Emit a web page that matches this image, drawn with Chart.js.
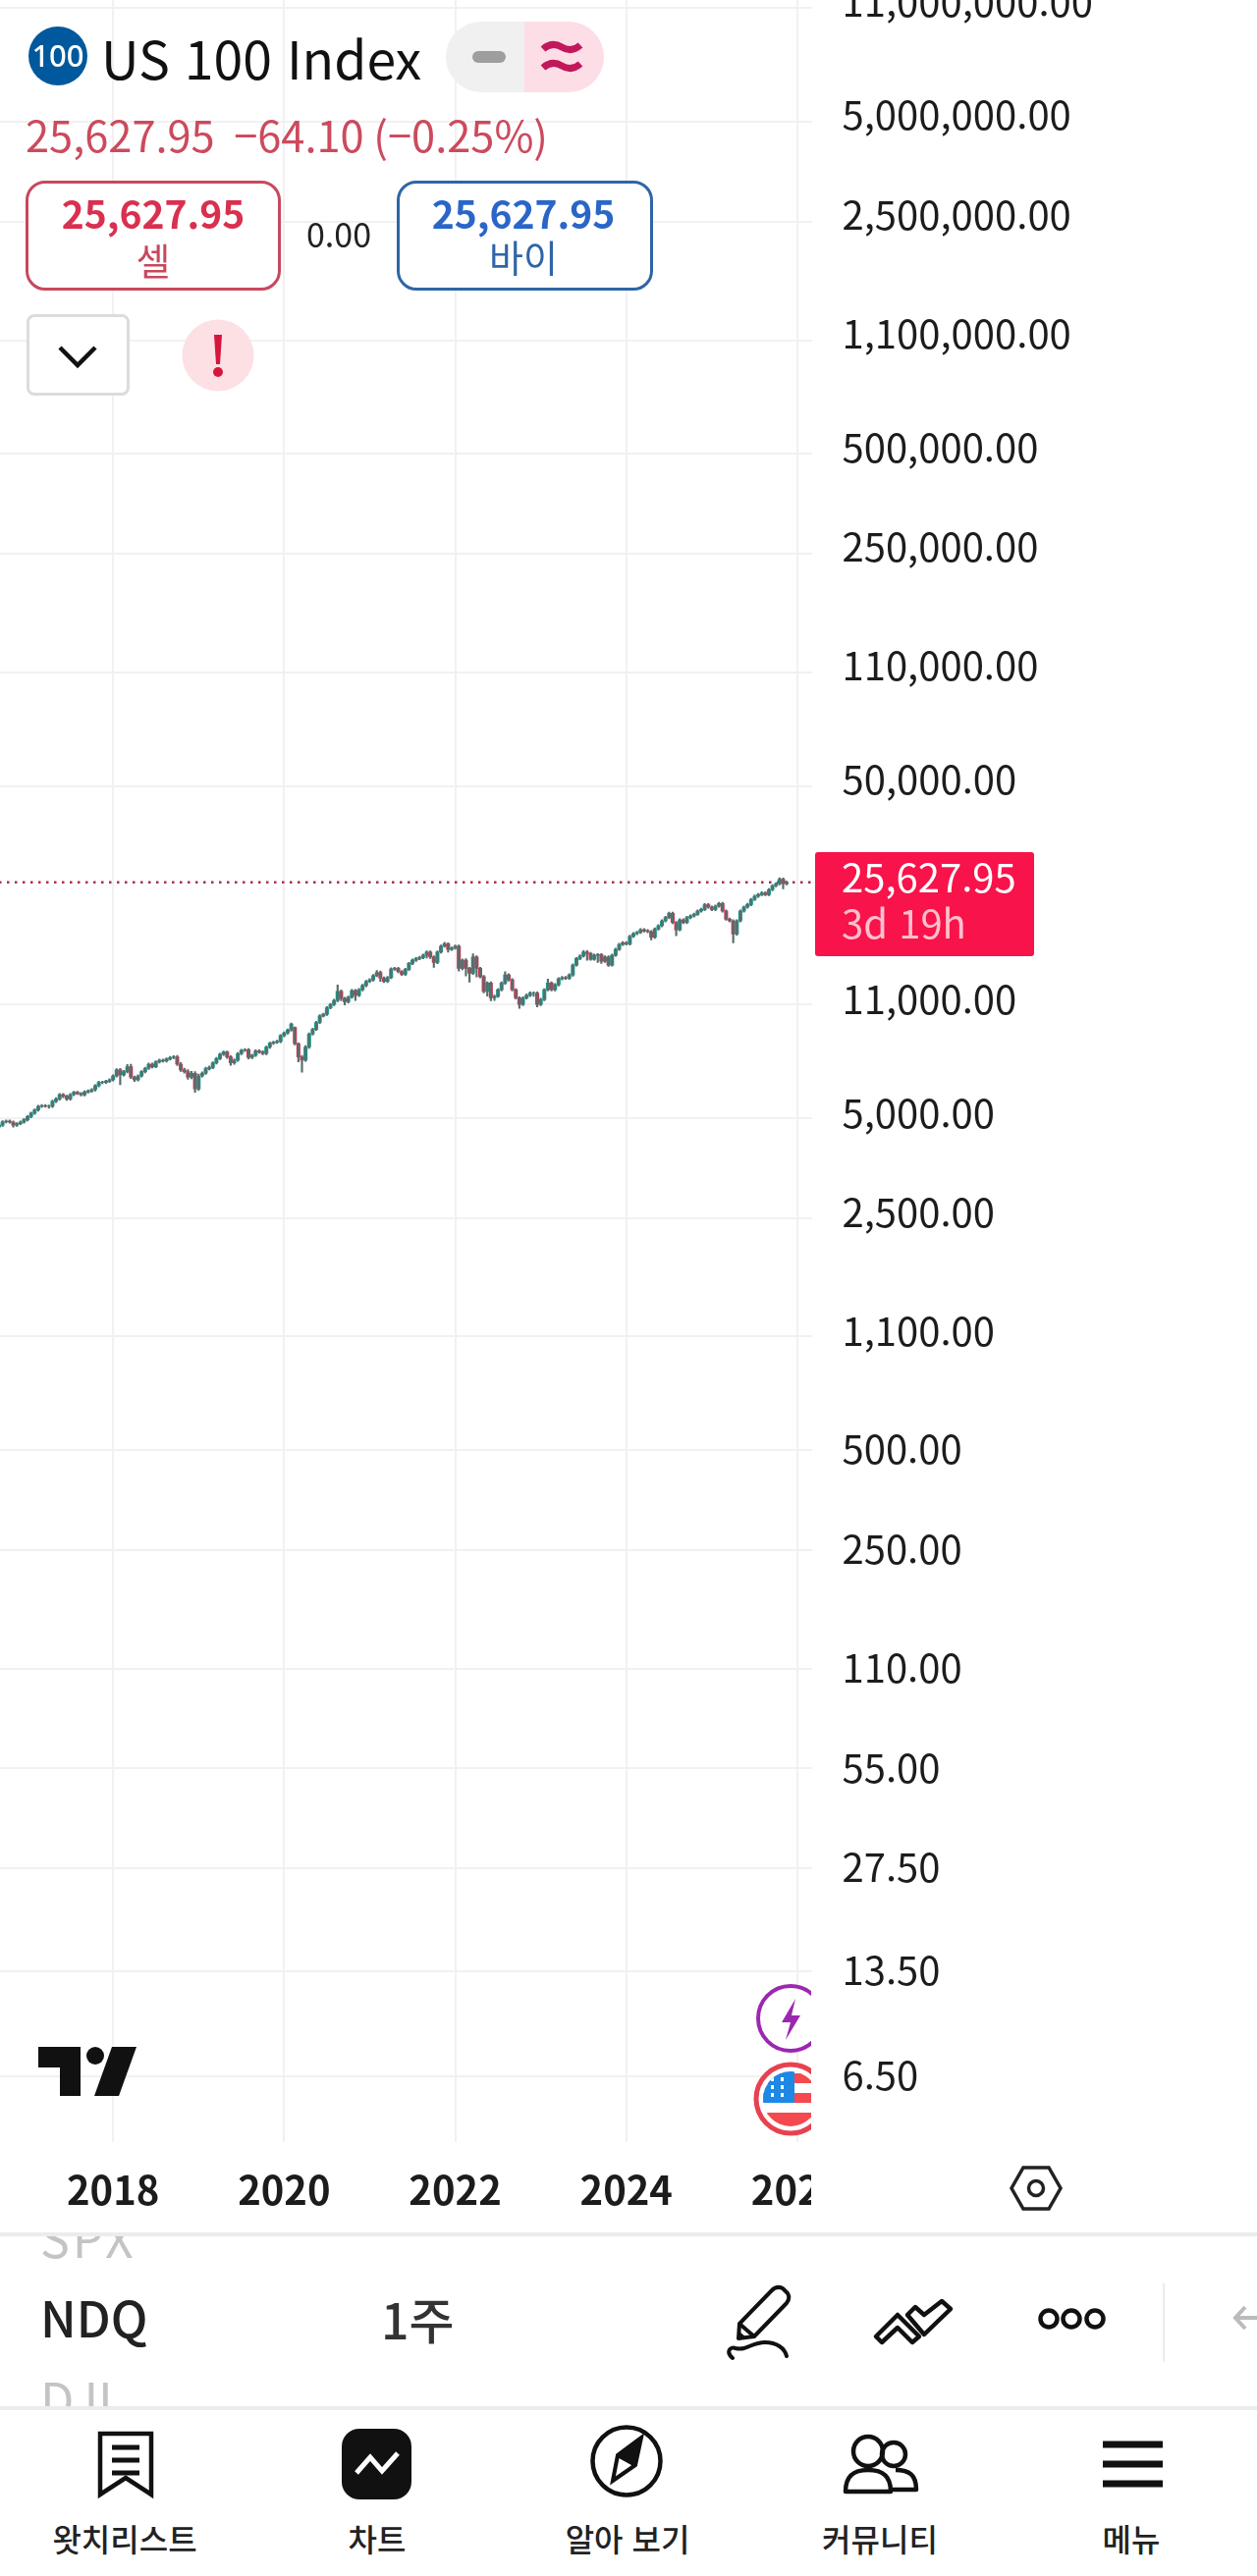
<!DOCTYPE html>
<html lang="ko"><head><meta charset="utf-8">
<script src="https://cdn.jsdelivr.net/npm/chart.js@4"></script>
<style>
html,body{margin:0;padding:0;background:#fff;width:1280px;height:2624px;overflow:hidden;font-family:"Noto Sans CJK KR","Noto Sans",sans-serif}
#wrap{position:absolute;left:0;top:0;width:1280px;height:2624px;overflow:hidden}
canvas{position:absolute;left:-1px;top:0}
.t{position:absolute;white-space:nowrap;line-height:1}
.c{transform:translateX(-50%)}
.box{position:absolute;box-sizing:border-box;background:#fff}
svg{position:absolute;left:0;top:0}
</style></head><body><div id="wrap">
<canvas id="chart" width="1281" height="2290"></canvas>

<div class="box" style="left:826px;top:2190px;width:140px;height:84px"></div>
<div class="box" style="left:0;top:2274px;width:1280px;height:4px;background:#ececec"></div>
<div class="box" style="left:0;top:2451px;width:1280px;height:4px;background:#ececec"></div>

<div class="box" style="left:830px;top:868px;width:223px;height:106px;background:#f8134a;border-radius:3px"></div>
<div class="t" style="left:857px;top:872px;font-size:40px;color:#fff">25,627.95</div>
<div class="t" style="left:857px;top:919px;font-size:40px;color:#ffc0cc">3d 19h</div>

<div class="box" style="left:454px;top:22px;width:80px;height:72px;background:#f0f0f0;border-radius:36px 0 0 36px"></div>
<div class="box" style="left:534px;top:22px;width:81px;height:72px;background:#fddde6;border-radius:0 36px 36px 0"></div>
<div class="t" style="left:103px;top:31px;font-size:53.5px;color:#111">US 100 Index</div>
<div class="t" style="left:26px;top:115px;font-size:43.4px;color:#cc4a5d">25,627.95&nbsp;&nbsp;−64.10 (−0.25%)</div>

<div class="box" style="left:26px;top:184px;width:260px;height:112px;border:3px solid #c8485e;border-radius:20px"></div>
<div class="t c" style="left:156px;top:197px;font-size:39px;font-weight:700;color:#d9304f">25,627.95</div>
<div class="t c" style="left:156px;top:245px;font-size:38px;color:#c8485e">셀</div>
<div class="t c" style="left:345px;top:221px;font-size:34px;color:#222">0.00</div>
<div class="box" style="left:404px;top:184px;width:261px;height:112px;border:3px solid #2f65a8;border-radius:20px"></div>
<div class="t c" style="left:533px;top:197px;font-size:39px;font-weight:700;color:#2a66c8">25,627.95</div>
<div class="t c" style="left:533px;top:242px;font-size:38px;color:#2f65a8">바이</div>
<div class="box" style="left:27px;top:320px;width:105px;height:83px;border:3px solid #dcdcdc;border-radius:8px"></div>

<div style="position:absolute;left:0;top:2278px;width:700px;height:173px;overflow:hidden">
<div class="t" style="left:41px;top:-25px;font-size:50px;letter-spacing:3px;color:#c4c4c4">SPX</div>
<div class="t" style="left:41px;top:56px;font-size:50px;font-weight:500;color:#222">NDQ</div>
<div class="t" style="left:41px;top:139px;font-size:50px;color:#c4c4c4">DJI</div>
<div class="t" style="left:388px;top:58px;font-size:50px;font-weight:500;color:#333">1주</div>
</div>

<div class="t c" style="left:127px;top:2569px;font-size:32px;font-weight:500;color:#222">왓치리스트</div>
<div class="t c" style="left:384px;top:2569px;font-size:32px;font-weight:500;color:#222">차트</div>
<div class="t c" style="left:639px;top:2569px;font-size:32px;font-weight:500;color:#222">알아 보기</div>
<div class="t c" style="left:896px;top:2569px;font-size:32px;font-weight:500;color:#222">커뮤니티</div>
<div class="t c" style="left:1152px;top:2569px;font-size:32px;font-weight:500;color:#222">메뉴</div>

<svg width="1280" height="2624" viewBox="0 0 1280 2624">
<defs>
<clipPath id="left826"><rect x="0" y="0" width="826" height="2624"/></clipPath>
<clipPath id="flag"><circle cx="805" cy="2138" r="28"/></clipPath>
</defs>
<circle cx="59" cy="57" r="30" fill="#00599c"/>
<text x="59" y="68" font-size="31" font-weight="500" fill="#fff" text-anchor="middle" font-family="Noto Sans">100</text>
<rect x="481" y="52" width="34" height="12" rx="6" fill="#9e9e9e"/>
<path d="M553 50q9-8 19-2t19-2M553 69q9-8 19-2t19-2" fill="none" stroke="#c2185b" stroke-width="7"/>
<path d="M61 354l18 18 18-18" fill="none" stroke="#111" stroke-width="4.5"/>
<circle cx="222" cy="362" r="36.5" fill="#fde0e4"/>
<path d="M218 341h8l-2 30h-4z" fill="#d6173d"/><circle cx="222" cy="379" r="5" fill="#d6173d"/>
<path d="M39 2085h43v50h-21v-29h-22z" fill="#111"/>
<circle cx="97" cy="2094" r="9" fill="#111"/>
<path d="M114 2085h25l-18 50h-25z" fill="#111"/>
<g clip-path="url(#left826)">
<circle cx="805" cy="2056" r="33" fill="#fff" stroke="#9c27b0" stroke-width="4"/>
<path d="M810 2036l-14 24h9l-5 18 15-25h-9z" fill="#9c27b0"/>
<circle cx="805" cy="2138" r="35" fill="#fff" stroke="#e8414f" stroke-width="5"/>
<g clip-path="url(#flag)">
<rect x="777" y="2110" width="60" height="56" fill="#fff"/>
<rect x="777" y="2112" width="60" height="10" fill="#f44a4f"/>
<rect x="777" y="2132" width="60" height="10" fill="#f44a4f"/>
<rect x="777" y="2152" width="60" height="14" fill="#f44a4f"/>
<rect x="777" y="2110" width="32" height="32" fill="#1e88e5"/>
<path d="M785 2118h3M795 2118h3M785 2126h3M795 2126h3M785 2134h3M795 2134h3" stroke="#fff" stroke-width="4"/>
</g></g>
<path d="M1042 2208h26l12 21-12 21h-26l-12-21z" fill="none" stroke="#222" stroke-width="3.5"/>
<circle cx="1055" cy="2229" r="7.5" fill="none" stroke="#222" stroke-width="3.5"/>
<path d="M752 2382l1-15 33-34q5-5 11-2l5 5q3 5-1 10l-33 34z" fill="none" stroke="#111" stroke-width="4" stroke-linejoin="round"/>
<path d="M753 2367l15 13" stroke="#111" stroke-width="4"/>
<path d="M752 2382l1-7 7 6z" fill="#111"/>
<path d="M746 2402c-7-6-3-12 3-10 11 3 16-6 30-6 12 0 20 6 22 14" fill="none" stroke="#111" stroke-width="4" stroke-linecap="round"/>
<path d="M892 2380l22-22 22 22-7 6-15-15-16 15zM924 2358l8-8 9 8 18-14 9 8-27 26z" fill="none" stroke="#111" stroke-width="4.5" stroke-linejoin="round"/>
<circle cx="1068" cy="2362" r="8.5" fill="none" stroke="#111" stroke-width="4.5"/>
<circle cx="1091" cy="2362" r="8.5" fill="none" stroke="#111" stroke-width="4.5"/>
<circle cx="1115" cy="2362" r="8.5" fill="none" stroke="#111" stroke-width="4.5"/>
<rect x="1184" y="2326" width="2" height="80" fill="#ececec"/>
<path d="M1280 2361h-20M1268 2350l-10 11 10 11" fill="none" stroke="#bbb" stroke-width="4"/>
<path d="M102 2479h52v62l-26-17-26 17z" fill="none" stroke="#111" stroke-width="4.5"/>
<path d="M114 2493h28M114 2506h28M114 2519h28" stroke="#111" stroke-width="5"/>
<rect x="348" y="2474" width="71" height="72" rx="18" fill="#111"/>
<path d="M363 2519l14-16 12 14 16-18" fill="none" stroke="#fff" stroke-width="5"/>
<circle cx="638" cy="2507" r="34.5" fill="none" stroke="#111" stroke-width="4.5"/>
<path d="M624 2527l5-26 24-18-6 28zM629 2501l18 10" fill="none" stroke="#111" stroke-width="4"/><path d="M629 2501l24-18-6 28z" fill="#111"/>
<circle cx="884" cy="2497" r="15" fill="none" stroke="#111" stroke-width="4.5"/>
<circle cx="910" cy="2500" r="12" fill="none" stroke="#111" stroke-width="4.5"/>
<path d="M861 2538c0-16 8-22 23-22s23 6 23 22zM912 2516c14 0 21 5 21 20h-24" fill="none" stroke="#111" stroke-width="4.5" stroke-linejoin="round"/>
<path d="M1123 2490h61M1123 2510h61M1123 2530h61" stroke="#111" stroke-width="7"/>
</svg>
</div>
<script>
const yearTicks = ["2018","2020","2022","2024","2026"];
const priceTicks = [11000000,5000000,2500000,1100000,500000,250000,110000,50000,11000,5000,2500,1100,500,250,110,55,27.5,13.5,6.5];
const lastPrice = 25627.95;

const opens = [4700,4760,4870,4890,4860,4760,4805,4860,4940,5050,
5170,5285,5420,5445,5430,5420,5610,5710,5880,5815,
5710,5880,5975,5925,5870,5990,6030,6085,6255,6400,
6400,6455,6515,6695,6975,6740,6895,7135,6635,6515,
6695,6895,7055,7265,7135,7385,7465,7430,7535,7605,
7640,7265,6975,6895,6635,6820,6115,6695,6820,7040,
7100,7330,7550,7780,7900,7640,7330,7465,7815,7995,
8030,7605,7725,7960,7900,7815,8180,8400,8460,8500,
8855,9020,9205,9370,8370,7640,7465,8180,8955,9245,
9700,10150,10265,10740,10990,11295,12035,11450,11190,11555,
12090,11710,12170,12535,12885,13030,13420,13730,13180,12885,
13240,14045,14110,13795,13545,14015,14600,14935,15110,15210,
15455,15810,15280,14700,15810,16470,16735,16100,16250,16470,
14110,14935,14110,13640,15280,14110,13330,12035,12740,11500,
11630,12170,12740,13485,13030,12170,11500,10990,11500,11710,
11900,11900,10990,11370,12170,12740,12170,12595,13120,13240,
13180,13485,14435,15110,15385,15810,15630,15040,15455,15525,
14835,15280,14435,15455,16100,16660,16850,16735,17630,17960,
18120,18450,18320,18205,17515,18540,18965,19620,20075,20675,
19400,18450,19755,19400,20075,20305,20535,21005,21250,21940,
21590,21250,21735,22135,21005,19850,19620,17920,19620,21005,
21590,21985,22750,23270,23535,23805,23535,24355,25030,25370,
26190,25370];

const closes = [4760,4870,4890,4860,4760,4805,4860,4940,5050,5170,
5285,5420,5445,5430,5420,5610,5710,5880,5815,5710,
5880,5975,5925,5870,5990,6030,6085,6255,6400,6400,
6455,6515,6695,6975,6740,6895,7135,6635,6515,6695,
6895,7055,7265,7135,7385,7465,7430,7535,7605,7640,
7265,6975,6895,6635,6820,6115,6695,6820,7040,7100,
7330,7550,7780,7900,7640,7330,7465,7815,7995,8030,
7605,7725,7960,7900,7815,8180,8400,8460,8500,8855,
9020,9205,9590,8370,7640,7465,8180,8955,9245,9700,
10150,10265,10740,10990,11295,12035,11450,11190,11555,12090,
11710,12170,12535,12885,13030,13420,13730,13180,12885,13240,
14045,14110,13795,13545,14015,14600,14935,15110,15210,15455,
15810,15280,14700,15810,16470,16735,16100,16250,16470,14110,
14935,14110,13640,15280,14110,13330,12035,12740,11500,11630,
12170,12740,13485,13030,12170,11500,10990,11500,11710,11900,
11900,10990,11370,12170,12740,12170,12595,13120,13240,13180,
13485,14435,15110,15385,15810,15630,15040,15455,15525,14835,
15280,14435,15455,16100,16660,16850,16735,17630,17960,18120,
18450,18320,18205,17515,18540,18965,19620,20075,20675,19400,
18450,19755,19400,20075,20305,20535,21005,21250,21940,21590,
21250,21735,22135,21005,19850,19620,17920,19620,21005,21590,
21985,22750,23270,23535,23805,23535,24355,25030,25370,26190,
25370,25627.95];

const highs = [4800,4910,4930,4930,4900,4840,4900,4980,5090,5210,
5330,5460,5490,5490,5470,5660,5760,5930,5930,5860,
5930,6020,6020,5970,6040,6080,6130,6300,6450,6450,
6500,6570,6750,7040,7050,6960,7250,7260,6690,6750,
6950,7110,7320,7320,7440,7520,7520,7590,7660,7700,
7720,7340,7060,6990,6910,6900,6780,6890,7110,7170,
7390,7610,7840,7960,7960,7700,7530,7880,8060,8090,
8100,7790,8030,8030,7970,8240,8460,8520,8570,8920,
9090,9280,9660,9400,8420,7720,8260,9030,9320,9780,
10230,10350,10830,11080,11390,12570,12150,11560,11660,12190,
12200,12280,12640,12990,13140,13530,13900,13850,13300,13350,
14160,14230,14230,13910,14130,14720,15060,15230,15340,15580,
15940,15940,15410,15940,16600,16920,16870,16380,16600,16600,
15060,15100,14230,15600,15410,14230,13450,12850,12850,11730,
12270,12850,13800,13600,13140,12270,11600,11600,11810,12000,
12000,12000,11470,12270,13100,12850,12700,13230,13350,13350,
13600,14560,15230,15510,15950,15950,15760,15590,15650,15650,
15400,15400,15590,16240,16800,16990,16990,17780,18110,18270,
18600,18600,18470,18360,18700,19120,19780,20240,20850,20850,
19560,19920,19920,20240,20470,20700,21180,21430,22120,22120,
21770,21920,22320,22320,21180,20020,19790,19790,21180,21770,
22170,22940,23470,23730,24000,24000,24560,25240,25580,26450,
26410,25840];

const lows = [4660,4720,4830,4820,4690,4720,4770,4820,4900,5010,
5130,5240,5380,5390,5350,5380,5560,5660,5760,5650,
5660,5830,5880,5820,5820,5940,5980,6030,6200,6340,
6350,6400,6460,6640,6300,6680,6840,6570,6440,6460,
6640,6840,7000,7070,7080,7320,7370,7370,7470,7540,
7190,6900,6820,6540,6560,5980,6060,6640,6760,6980,
7040,7270,7490,7710,7560,7200,7260,7400,7750,7920,
7530,7540,7660,7830,7750,7750,8110,8330,8390,8430,
8780,8950,9130,8300,7380,6870,7400,8110,8880,9170,
9620,10070,10180,10650,10900,11200,11280,10950,11100,11460,
11300,11610,12070,12430,12780,12920,13310,12900,12780,12780,
13130,13930,13680,13430,13430,13900,14480,14810,14990,15090,
15150,15100,14200,14580,15680,16330,15800,15970,16120,13850,
13960,13380,12820,13530,13300,13200,11900,11650,11270,11300,
11540,12070,12640,12920,12070,11400,10700,10900,11400,11610,
11620,10800,10900,11280,12070,12070,12070,12490,13020,13070,
13070,13370,14320,14990,15260,14920,14920,14920,14710,14600,
14710,14310,14320,15330,15970,16520,16600,16600,17480,17810,
17970,18170,18050,17200,17370,18390,18810,19460,19910,19240,
17700,18300,19240,19240,19910,20140,20370,20830,21070,21410,
21070,21070,21550,20830,19690,19460,16850,17770,19460,20830,
21410,21800,22560,23080,23340,23340,23340,24150,24820,25160,
24500,25160];

// half-month periods from Sep 2016 to Mar 2026
const categories = [];
for (let y = 2016, m = 9, d = 1; ; ) {
  categories.push(y + "-" + String(m).padStart(2, "0") + "-" + (d === 1 ? "01" : "16"));
  if (y === 2026 && m === 3) break;
  if (d === 1) { d = 16; } else { d = 1; m++; if (m > 12) { m = 1; y++; } }
}

const UP = "#0f9c8c", DOWN = "#cf3450", WICK = "#5a6c6c", GRID = "#f1f1f3";
const barColors = closes.map((c, i) => c >= opens[i] ? UP : DOWN);
const fmt = new Intl.NumberFormat("en-US", {minimumFractionDigits: 2, maximumFractionDigits: 2});

// The source app's labels sit slightly off their grid lines, by price band.
const labelNudge = {
  id: "labelNudge",
  beforeDraw(chart) {
    const s = chart.scales.y;
    s.getLabelItems().forEach((item, i) => {
      const v = s.ticks[i].value;
      item.options.translation[1] += v >= 20000 ? -3 : (v >= 1000 ? -1.5 : 3);
    });
    chart.options.plugins.labelNudge = false;
  }
};

new Chart(document.getElementById("chart"), {
  plugins: [labelNudge],
  data: {
    labels: categories,
    datasets: [
      {type: "line", data: categories.map(() => lastPrice), borderColor: "#a8324a", borderWidth: 2.5,
       borderDash: [2.5, 5.5], pointRadius: 0, order: 3, tension: 0},
      {type: "bar", data: closes.map((c, i) => [opens[i], c]), backgroundColor: barColors,
       borderWidth: 0, barThickness: 3.4, grouped: false, order: 2},
      {type: "bar", data: lows.map((l, i) => [l, highs[i]]), backgroundColor: WICK,
       borderWidth: 0, barThickness: 1.5, grouped: false, order: 1}
    ]
  },
  options: {
    responsive: false, animation: false, devicePixelRatio: 1,
    layout: {padding: 0},
    plugins: {legend: {display: false}, tooltip: {enabled: false}},
    scales: {
      x: {
        offset: false,
        grid: {color: GRID, lineWidth: 2, drawTicks: false, offset: false},
        border: {display: false},
        ticks: {
          autoSkip: false, maxRotation: 0, minRotation: 0, padding: 25,
          color: "#1c1c1c", font: {family: '"Noto Sans CJK KR"', size: 40, weight: 700},
          callback(v) { const l = this.getLabelForValue(v); return (l.endsWith("-01-01") && yearTicks.includes(l.slice(0, 4))) ? l.slice(0, 4) : null; }
        },
        afterFit(s) { s.height = 108; s.paddingLeft = 0; s.paddingRight = 0; s.paddingTop = 0; s.paddingBottom = 0; }
      },
      y: {
        type: "logarithmic", position: "right",
        min: 4.12, max: 1.164e7,
        grid: {color: GRID, lineWidth: 2, drawTicks: false},
        border: {display: false},
        ticks: {
          padding: 31, autoSkip: false, labelOffset: -4, align: "center", crossAlign: "near",
          color: "#1c1c1c", font: {family: '"Noto Sans CJK KR"', size: 40, weight: 400},
          callback(v) { return fmt.format(v); }
        },
        afterBuildTicks(s) { s.ticks = priceTicks.map(v => ({value: v})); },
        afterFit(s) { s.width = 453.5; s.paddingTop = 0; s.paddingBottom = 0; s.paddingLeft = 0; s.paddingRight = 0; }
      }
    }
  }
});
</script>
</body></html>
